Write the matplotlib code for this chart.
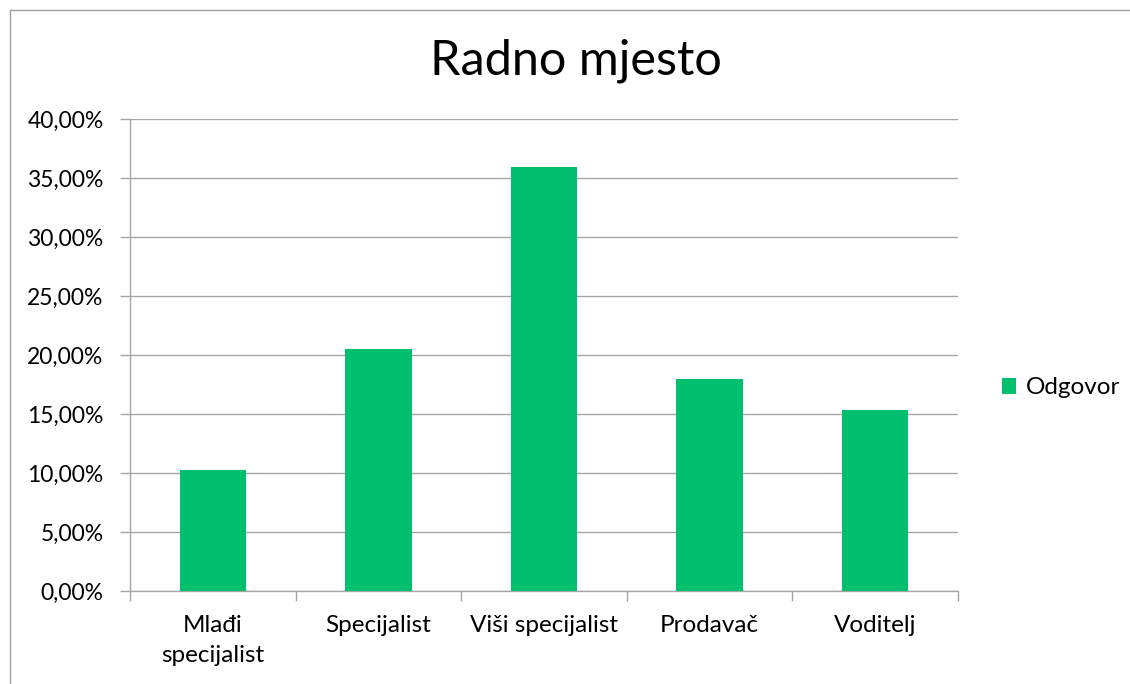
import matplotlib
matplotlib.use('Agg')
import matplotlib.pyplot as plt
from matplotlib.lines import Line2D
from matplotlib.ticker import FuncFormatter

categories = ['Mlađi\nspecijalist', 'Specijalist', 'Viši specijalist', 'Prodavač', 'Voditelj']
values = [10.26, 20.51, 35.90, 17.95, 15.38]
series_name = 'Odgovor'
title = 'Radno mjesto'

GREEN = '#00BF6F'
GRID = '#A6A6A6'

plt.rcParams['font.family'] = ['Lato', 'DejaVu Sans']

fig = plt.figure(figsize=(11.30, 6.84), dpi=100)
ax = fig.add_axes([130 / 1130, 93 / 684, 828 / 1130, 472 / 684])

x = range(len(categories))
ax.bar(x, values, width=0.40, color=GREEN, label=series_name, zorder=3)

ax.set_xlim(-0.5, len(categories) - 0.5)
ax.set_ylim(0, 40)
ax.set_yticks(range(0, 41, 5))
ax.yaxis.set_major_formatter(FuncFormatter(lambda v, p: f'{v:.2f}%'.replace('.', ',')))
ax.grid(axis='y', color=GRID, linewidth=1, zorder=0)

ax.set_xticks([i + 0.5 for i in range(-1, len(categories))], minor=False)
ax.set_xticklabels([])
ax.set_xticks(list(x), minor=True)
ax.set_xticklabels(categories, minor=True, fontsize=17.5, color='black', linespacing=1.55)
ax.tick_params(axis='x', which='minor', length=0, pad=17)
ax.tick_params(axis='x', which='major', length=7, color=GRID, width=1)
ax.tick_params(axis='y', length=7, color=GRID, width=1, labelsize=16.5, pad=12, labelcolor='black')

for side in ['top', 'right']:
    ax.spines[side].set_visible(False)
for side in ['left', 'bottom']:
    ax.spines[side].set_color(GRID)
    ax.spines[side].set_linewidth(1)

fig.text(576 / 1130, 1 - 61 / 684, title, fontsize=35, ha='center', va='center')

fig.legend(loc='center left', bbox_to_anchor=(980 / 1130, 1 - 388 / 684), frameon=False,
           fontsize=17.5, handlelength=0.6, handleheight=0.6, handletextpad=0.4)

# outer chart frame (cropped on right and bottom)
fig.add_artist(Line2D([9.5 / 1130, 1], [1 - 9.5 / 684, 1 - 9.5 / 684], color='#A0A0A0', linewidth=1))
fig.add_artist(Line2D([9.5 / 1130, 9.5 / 1130], [0, 1 - 9.5 / 684], color='#A0A0A0', linewidth=1))

fig.savefig('out.png', dpi=100)
